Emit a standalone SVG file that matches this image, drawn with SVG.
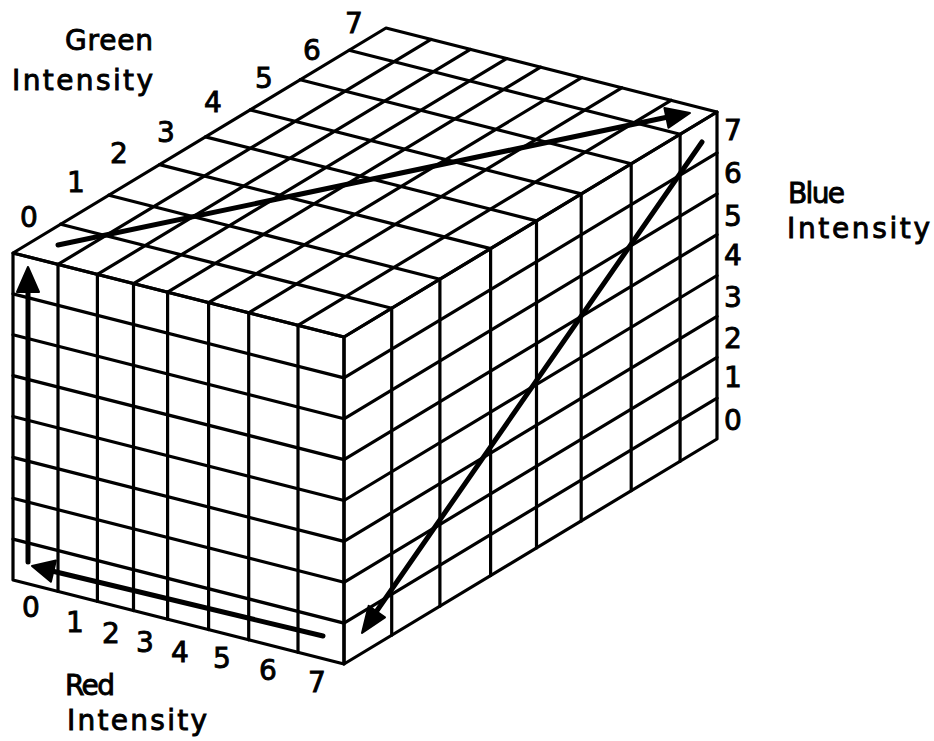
<svg xmlns="http://www.w3.org/2000/svg" width="934" height="741" viewBox="0 0 934 741">
<style>
.g{stroke:#000;stroke-width:3.2;fill:none;stroke-linecap:round;stroke-linejoin:round}
.a{stroke:#000;stroke-width:5;fill:none;stroke-linecap:round}
.h{fill:#000;stroke:#000;stroke-width:2;stroke-linejoin:round}
text{font-family:"DejaVu Sans","Liberation Sans",sans-serif;font-size:28px;fill:#000;stroke:#000;stroke-width:0.9}
.d{text-anchor:middle}
</style>
<rect width="934" height="741" fill="#fff"/>
<g id="top-face" class="g">
<path d="M13,253L386,28L717,112L344,337Z"/>
<path d="M60.7,224.2L391.7,308.2M108.9,195.2L439.9,279.2M159.6,164.6L490.6,248.6M205.5,136.9L536.5,220.9M250.2,109.9L581.2,193.9M300.2,79.7L631.2,163.7M349.1,50.3L680.1,134.3"/>
<path d="M58,264.4L431,39.4M97.4,274.4L470.4,49.4M133.5,283.6L506.5,58.6M167.6,292.2L540.6,67.2M208.6,302.6L581.6,77.6M248.7,312.8L621.7,87.8M298,325.3L671,100.3"/>
</g>
<g id="front-face" class="g">
<path d="M13,253L344,337L344,664L13,580Z"/>
<path d="M58,264.4V591.4M97.4,274.4V601.4M133.5,283.6V610.6M167.6,292.2V619.2M208.6,302.6V629.6M248.7,312.8V639.8M298,325.3V652.3"/>
<path d="M13,293.9L344,377.9M13,334.8L344,418.8M13,375.6L344,459.6M13,416.5L344,500.5M13,457.4L344,541.4M13,498.3L344,582.3M13,539.1L344,623.1"/>
</g>
<g id="right-face" class="g">
<path d="M344,337L717,112L717,439L344,664Z"/>
<path d="M391.7,308.2V635.2M439.9,279.2V606.2M490.6,248.6V575.6M536.5,220.9V547.9M581.2,193.9V520.9M631.2,163.7V490.7M680.1,134.3V461.3"/>
<path d="M344,377.9L717,152.9M344,418.8L717,193.8M344,459.6L717,234.6M344,500.5L717,275.5M344,541.4L717,316.4M344,582.3L717,357.3M344,623.1L717,398.1"/>
</g>
<g id="connectors">
<g id="arrow-blue-up">
<path class="a" d="M28,562V288"/>
<polygon class="h" points="28,267 17,292 39,292"/>
</g>
<g id="arrow-red-left">
<path class="a" d="M323,636L52,571"/>
<polygon class="h" points="32,566 55.9,560.4 50.9,581.8"/>
</g>
<g id="arrow-green-top">
<path class="a" d="M58,245L668,117"/>
<polygon class="h" points="690,113 664.4,108.1 668.5,127.7"/>
</g>
<g id="arrow-diagonal">
<path class="a" d="M702,142L376,612"/>
<polygon class="h" points="362,633 385,617.3 368.6,605.9"/>
</g>
</g>
<g id="green-axis">
<text x="65" y="50" textLength="88" lengthAdjust="spacing">Green</text>
<text x="12" y="90" textLength="141" lengthAdjust="spacing">Intensity</text>
<text class="d" x="29" y="227">0</text>
<text class="d" x="76" y="192">1</text>
<text class="d" x="119" y="163">2</text>
<text class="d" x="166" y="142">3</text>
<text class="d" x="213" y="112">4</text>
<text class="d" x="264" y="88">5</text>
<text class="d" x="312" y="60">6</text>
<text class="d" x="354" y="33">7</text>
</g>
<g id="blue-axis">
<text x="788" y="203" textLength="57" lengthAdjust="spacing">Blue</text>
<text x="787" y="238" textLength="143" lengthAdjust="spacing">Intensity</text>
<text class="d" x="733" y="140">7</text>
<text class="d" x="733" y="183">6</text>
<text class="d" x="733" y="226">5</text>
<text class="d" x="733" y="265">4</text>
<text class="d" x="733" y="307">3</text>
<text class="d" x="733" y="348">2</text>
<text class="d" x="733" y="387">1</text>
<text class="d" x="733" y="430">0</text>
</g>
<g id="red-axis">
<text x="65" y="695" textLength="50" lengthAdjust="spacing">Red</text>
<text x="67" y="730" textLength="140" lengthAdjust="spacing">Intensity</text>
<text class="d" x="31" y="617">0</text>
<text class="d" x="75" y="632">1</text>
<text class="d" x="111" y="643">2</text>
<text class="d" x="145" y="652">3</text>
<text class="d" x="180" y="662">4</text>
<text class="d" x="222" y="668">5</text>
<text class="d" x="268" y="680">6</text>
<text class="d" x="317" y="692">7</text>
</g>
</svg>
